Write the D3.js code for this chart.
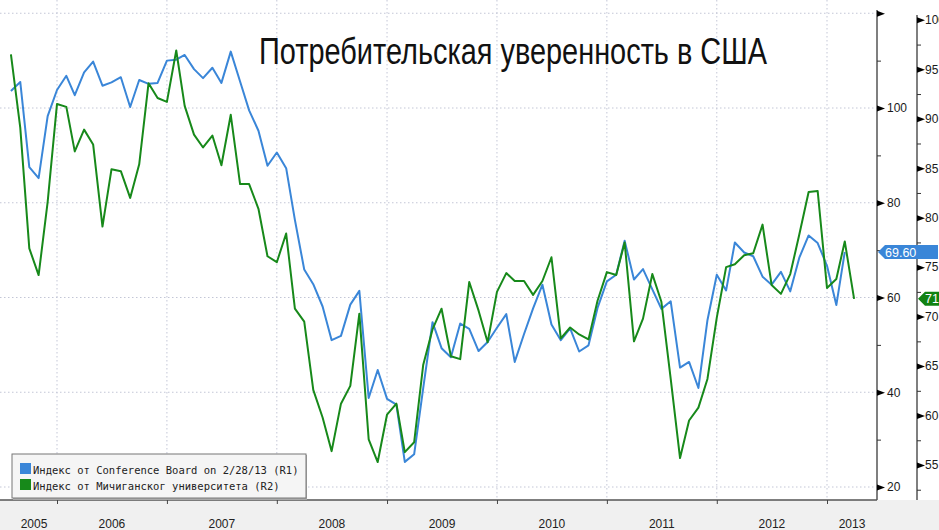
<!DOCTYPE html>
<html>
<head>
<meta charset="utf-8">
<script src="https://cdn.jsdelivr.net/npm/d3@7"></script>
<style>
  body { margin: 0; background: #fff; }
  svg { display: block; }
</style>
</head>
<body>
<svg id="chart" width="939" height="530"></svg>
<script>
// monthly readings, first point = July 2005
const startYear = 2005, startMonth = 6;
const cbValues = [
  103.6, 105.5, 87.5, 85.2, 98.3, 103.8,
  106.8, 102.7, 107.5, 109.8, 104.7, 105.4, 106.5, 100.2, 105.9, 105.1, 105.3, 110.0,
  110.2, 111.2, 108.2, 106.3, 108.5, 105.3, 111.9, 105.6, 99.5, 95.2, 87.8, 90.6,
  87.3, 76.4, 65.9, 62.8, 58.1, 51.0, 51.9, 58.5, 61.4, 38.8, 44.7, 38.6,
  37.4, 25.3, 26.9, 40.8, 54.8, 49.3, 47.4, 54.5, 53.4, 48.7, 50.6, 53.6,
  56.5, 46.4, 52.3, 57.7, 62.7, 54.3, 51.0, 53.5, 48.6, 49.9, 57.8, 63.4,
  64.8, 72.0, 63.8, 66.0, 61.7, 57.6, 59.2, 45.2, 46.4, 40.9, 55.2, 64.8,
  61.5, 71.6, 69.5, 68.7, 64.4, 62.7, 65.4, 61.3, 68.4, 73.1, 71.5, 66.7,
  58.4, 69.6
];
const umValues = [
  96.5, 89.1, 76.9, 74.2, 81.6, 91.5,
  91.2, 86.7, 88.9, 87.4, 79.1, 84.9, 84.7, 82.0, 85.4, 93.6, 92.1, 91.7,
  96.9, 91.3, 88.4, 87.1, 88.3, 85.3, 90.4, 83.4, 83.4, 80.9, 76.1, 75.5,
  78.4, 70.8, 69.5, 62.6, 59.8, 56.4, 61.2, 63.0, 70.3, 57.6, 55.3, 60.1,
  61.2, 56.3, 57.3, 65.1, 68.7, 70.8, 66.0, 65.7, 73.5, 70.6, 67.4, 72.5,
  74.4, 73.6, 73.6, 72.2, 73.6, 76.0, 67.8, 68.9, 68.2, 67.7, 71.6, 74.5,
  74.2, 77.5, 67.5, 69.8, 74.3, 71.5, 63.7, 55.7, 59.5, 60.8, 63.7, 69.9,
  75.0, 75.3, 76.2, 76.4, 79.3, 73.2, 72.3, 74.3, 78.3, 82.6, 82.7, 72.9,
  73.8, 77.6, 71.8
];
const years = [2005, 2006, 2007, 2008, 2009, 2010, 2011, 2012, 2013];
const r1Ticks = [20, 40, 60, 80, 100, 120];
const r1Minor = [30, 50, 70, 90, 110];
const r2Ticks = [55, 60, 65, 70, 75, 80, 85, 90, 95, 100];
const r2Minor = [52.5, 57.5, 62.5, 67.5, 72.5, 77.5, 82.5, 87.5, 92.5, 97.5];
const titleText = "Потребительская уверенность в США";
const seriesNames = [
  "Индекс от Conference Board on 2/28/13 (R1)",
  "Индекс от Мичиганског университета (R2)"
];
const blue = "#3a86d8", green = "#17891a";

const svg = d3.select("#chart");
const width = +svg.attr("width");
const height = +svg.attr("height");
const plotRight = 877, plotBottom = 500, plotLeft = 11;

// month-end dates
function toSeries(vals) {
  return vals.map((v, i) => ({ date: new Date(startYear, startMonth + i + 1, 0), value: v }));
}
const cb = toSeries(cbValues);
const um = toSeries(umValues);

const x = d3.scaleTime()
  .domain([new Date(2005, 11, 31), new Date(2012, 11, 31)])
  .range([57, 827]);
const yL = d3.scaleLinear().domain([20, 100]).range([487, 108]);
const yR = d3.scaleLinear().domain([55, 95]).range([465, 69.3]);

svg.append("rect").attr("width", width).attr("height", height).attr("fill", "#fff");
svg.append("rect").attr("x", 0).attr("y", plotBottom).attr("width", width)
  .attr("height", height - plotBottom).attr("fill", "#f0f0f0");

// grid
const yearTicks = years.slice(1).map(y => new Date(y - 1, 11, 31));
svg.append("g").selectAll("line").data(r1Ticks).join("line")
  .attr("x1", 0).attr("x2", plotRight)
  .attr("y1", d => yL(d)).attr("y2", d => yL(d))
  .attr("stroke", "#c3c6d6").attr("stroke-dasharray", "1.5,2.5");
svg.append("g").selectAll("line").data(yearTicks).join("line")
  .attr("x1", d => x(d)).attr("x2", d => x(d))
  .attr("y1", 0).attr("y2", plotBottom)
  .attr("stroke", "#c3c6d6").attr("stroke-dasharray", "1.5,2.5");

// title
svg.append("text")
  .attr("x", 259).attr("y", 64)
  .attr("textLength", 508).attr("lengthAdjust", "spacingAndGlyphs")
  .attr("font-family", "Liberation Sans, Arial, sans-serif")
  .attr("font-size", 36).attr("fill", "#111")
  .text(titleText);

// lines
svg.append("clipPath").attr("id", "plotclip")
  .append("rect").attr("x", 0).attr("y", 0).attr("width", plotRight).attr("height", plotBottom);

const lineL = d3.line().x(d => x(d.date)).y(d => yL(d.value));
const lineR = d3.line().x(d => x(d.date)).y(d => yR(d.value));
svg.append("path").datum(cb).attr("d", lineL).attr("clip-path", "url(#plotclip)")
  .attr("fill", "none").attr("stroke", blue).attr("stroke-width", 2).attr("stroke-linejoin", "round");
svg.append("path").datum(um).attr("d", lineR).attr("clip-path", "url(#plotclip)")
  .attr("fill", "none").attr("stroke", green).attr("stroke-width", 2).attr("stroke-linejoin", "round");

// frame
svg.append("line").attr("x1", 0).attr("x2", plotRight).attr("y1", plotBottom).attr("y2", plotBottom)
  .attr("stroke", "#555").attr("stroke-width", 1.5);
svg.append("line").attr("x1", plotRight).attr("x2", plotRight).attr("y1", 10).attr("y2", plotBottom)
  .attr("stroke", "#555").attr("stroke-width", 1.5);
svg.append("line").attr("x1", 917).attr("x2", 917).attr("y1", 15).attr("y2", plotBottom)
  .attr("stroke", "#555").attr("stroke-width", 1.5);

// x axis
const xAxis = svg.append("g").attr("transform", `translate(0,${plotBottom})`)
  .call(d3.axisBottom(x).tickValues(yearTicks).tickSize(4).tickFormat(""));
xAxis.select(".domain").remove();
xAxis.selectAll(".tick line").attr("stroke", "#444");

svg.append("g").selectAll("text").data(years).join("text")
  .attr("x", y => {
    const a = Math.max(plotLeft, x(new Date(y - 1, 11, 31)));
    const b = Math.min(plotRight, x(new Date(y, 11, 31)));
    return (a + b) / 2;
  })
  .attr("y", 528).attr("text-anchor", "middle")
  .attr("font-family", "Liberation Sans, Arial, sans-serif").attr("font-size", 12).attr("fill", "#222")
  .text(d => d);

// right axes with flag ticks
function rightAxis(scale, xPos, major, minor, fmt, pad) {
  const g = svg.append("g").attr("transform", `translate(${xPos},0)`);
  const minorG = g.append("g").call(d3.axisRight(scale).tickValues(minor).tickSize(4).tickFormat(""));
  minorG.select(".domain").remove();
  minorG.selectAll(".tick line").attr("stroke", "#333");
  const majorG = g.append("g").call(d3.axisRight(scale).tickValues(major).tickSize(0).tickPadding(pad).tickFormat(fmt));
  majorG.select(".domain").remove();
  majorG.selectAll(".tick").append("path")
    .attr("d", "M0,-3L8,0L0,3Z").attr("fill", "#000");
  majorG.selectAll(".tick text")
    .attr("font-family", "Liberation Sans, Arial, sans-serif").attr("font-size", 12).attr("fill", "#1a1a1a");
}
rightAxis(yL, plotRight, r1Ticks, r1Minor, d => d === 120 ? "" : d, 10);
rightAxis(yR, 917, r2Ticks, r2Minor, d => d, 8);

// last value tags
function tag(xTip, yv, color, label) {
  const g = svg.append("g").attr("transform", `translate(${xTip},${yv})`);
  g.append("path").attr("d", "M0,0L7,-7L60,-7L60,7L7,7Z").attr("fill", color);
  g.append("text").attr("x", 7).attr("y", 4.5)
    .attr("font-family", "Liberation Sans, Arial, sans-serif").attr("font-size", 12.5).attr("fill", "#fff")
    .text(label);
}
const lastCb = cb[cb.length - 1], lastUm = um[um.length - 1];
tag(878, yL(lastCb.value), blue, d3.format(".2f")(lastCb.value));
tag(918, yR(lastUm.value), "#118212", d3.format(".0f")(Math.floor(lastUm.value)));

// legend
const leg = svg.append("g");
leg.append("rect").attr("x", 13).attr("y", 455).attr("width", 294).attr("height", 45).attr("fill", "#aaa");
leg.append("rect").attr("x", 12).attr("y", 454).attr("width", 294).attr("height", 44)
  .attr("fill", "#f5f5f5").attr("stroke", "#777");
[blue, green].forEach((c, i) => {
  leg.append("rect").attr("x", 20).attr("y", 463 + i * 16).attr("width", 11).attr("height", 11).attr("fill", c);
  leg.append("text").attr("x", 33).attr("y", 474 + i * 16)
    .attr("font-family", "DejaVu Sans Mono, monospace").attr("font-size", 10.5).attr("fill", "#222")
    .text(seriesNames[i]);
});
</script>
</body>
</html>
